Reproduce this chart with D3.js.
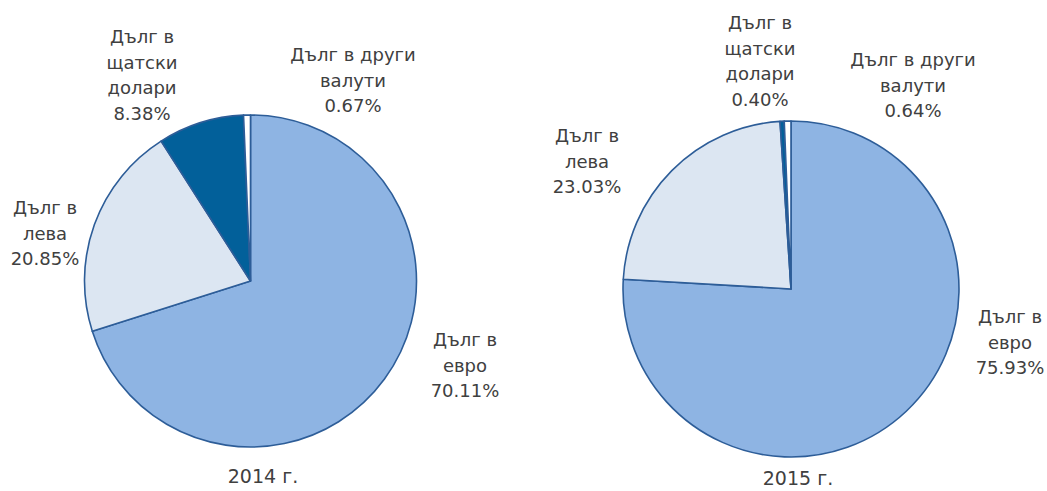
<!DOCTYPE html>
<html><head><meta charset="utf-8">
<script src="https://cdn.jsdelivr.net/npm/d3@7"></script>
<style>body{margin:0;background:#fff}svg{display:block}</style>
</head><body>
<script>
const categories = ["Дълг в евро", "Дълг в лева", "Дълг в щатски долари", "Дълг в други валути"];
const labelLines = [["Дълг в", "евро"], ["Дълг в", "лева"], ["Дълг в", "щатски", "долари"], ["Дълг в други", "валути"]];
const years = ["2014 г.", "2015 г."];
const values2014 = [70.11, 20.85, 8.38, 0.67];
const values2015 = [75.93, 23.03, 0.40, 0.64];
const colors = ["#8EB4E3", "#DCE6F2", "#02609A", "#FFFFFF"];

const W = 1047, H = 491;
const svg = d3.select("body").append("svg").attr("width", W).attr("height", H);

const pies = [
  {values: values2014, cx: 250.5, cy: 281, r: 166, title: years[0], tx: 263, ty: 476,
   labels: [[465, 340], [45, 208], [142, 37], [353, 55]]},
  {values: values2015, cx: 791, cy: 289, r: 168, title: years[1], tx: 798, ty: 478,
   labels: [[1010, 317], [587, 136], [760, 23], [913, 60]]}
];

const pie = d3.pie().sort(null).value(d => d);
const font = "'DejaVu Sans', sans-serif";

pies.forEach(p => {
  const g = svg.append("g").attr("transform", `translate(${p.cx},${p.cy})`);
  const arc = d3.arc().innerRadius(0).outerRadius(p.r);
  g.selectAll("path").data(pie(p.values)).join("path")
    .attr("d", arc)
    .attr("fill", (d, i) => colors[i])
    .attr("stroke", "#2D5D98")
    .attr("stroke-width", 1.6)
    .attr("stroke-linejoin", "round");

  p.values.forEach((v, i) => {
    const lines = labelLines[i].concat([v.toFixed(2) + "%"]);
    const t = svg.append("text")
      .attr("text-anchor", "middle")
      .attr("font-family", font)
      .attr("font-size", 18)
      .attr("fill", "#404040");
    lines.forEach((ln, k) => {
      t.append("tspan").attr("x", p.labels[i][0]).attr("y", p.labels[i][1] + k * 25.5)
        .attr("dy", "0.35em").text(ln);
    });
  });

  svg.append("text").attr("x", p.tx).attr("y", p.ty).attr("dy", "0.35em")
    .attr("text-anchor", "middle").attr("font-family", font).attr("font-size", 19)
    .attr("fill", "#404040").text(p.title);
});
</script>
</body></html>
